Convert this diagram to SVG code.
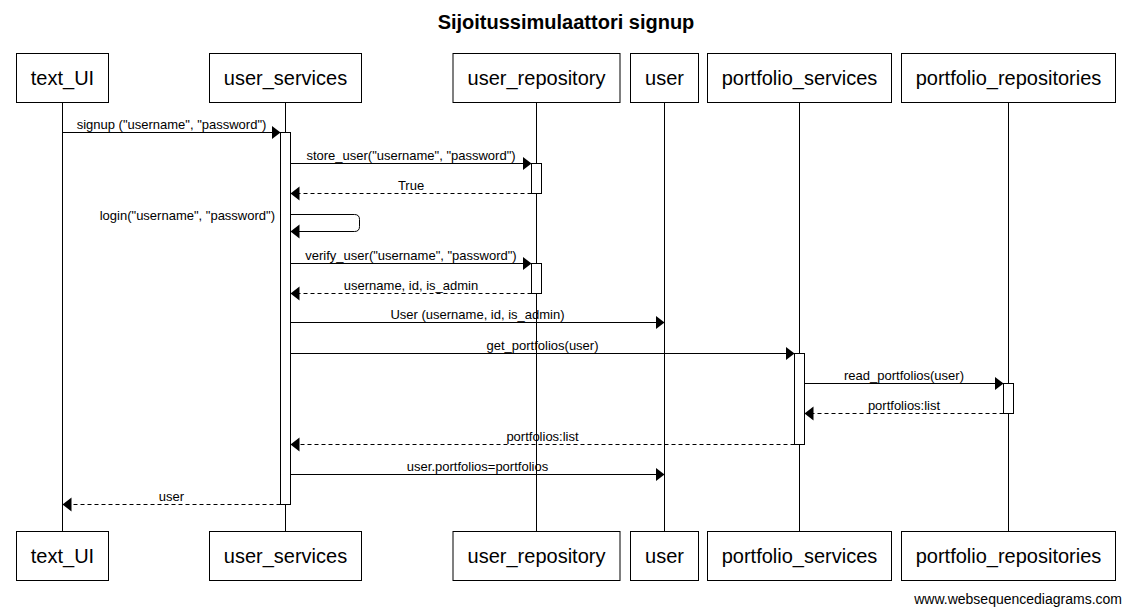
<svg xmlns="http://www.w3.org/2000/svg" width="1131" height="615" viewBox="0 0 1131 615">
<defs>
<style>
text{font-family:"Liberation Sans",Arial,sans-serif;fill:#000}
.title{font-size:20px;font-weight:bold;text-anchor:middle}
.box{fill:#fff;stroke:#000;stroke-width:1}
.bl{font-size:20px;text-anchor:middle}
.life{stroke:#000;stroke-width:1;fill:none}
.act{fill:#fff;stroke:#000;stroke-width:1}
.msg{stroke:#000;stroke-width:1;fill:none;marker-end:url(#ah)}
.ret{stroke-dasharray:4,3}
.lbl{font-size:13px;text-anchor:middle}
.wm{font-size:14px;text-anchor:end}
</style>
<marker id="ah" markerUnits="userSpaceOnUse" markerWidth="10" markerHeight="16" viewBox="0 0 10 16" refX="9" refY="7.5" orient="auto">
<path d="M0,0.5 L9,7.5 L0,14.5 z" fill="#000" stroke="none"/>
</marker>
</defs>
<rect width="1131" height="615" fill="#fff"/>
<text class="title" x="566" y="28.5">Sijoitussimulaattori signup</text>

<g id="lifelines">
<line class="life" x1="62.5" y1="102.5" x2="62.5" y2="531.5"/>
<line class="life" x1="285.5" y1="102.5" x2="285.5" y2="531.5"/>
<line class="life" x1="536.5" y1="102.5" x2="536.5" y2="531.5"/>
<line class="life" x1="664.5" y1="102.5" x2="664.5" y2="531.5"/>
<line class="life" x1="799.5" y1="102.5" x2="799.5" y2="531.5"/>
<line class="life" x1="1008.5" y1="102.5" x2="1008.5" y2="531.5"/>
</g>

<g id="node-text_UI">
<rect class="box" x="16.5" y="53.5" width="92" height="49"/>
<text class="bl" x="62.5" y="85">text_UI</text>
<rect class="box" x="16.5" y="531.5" width="92" height="49"/>
<text class="bl" x="62.5" y="563">text_UI</text>
</g>
<g id="node-user_services">
<rect class="box" x="209.5" y="53.5" width="152" height="49"/>
<text class="bl" x="285.5" y="85">user_services</text>
<rect class="box" x="209.5" y="531.5" width="152" height="49"/>
<text class="bl" x="285.5" y="563">user_services</text>
<rect class="act" x="280.5" y="132.5" width="10" height="372"/>
</g>
<g id="node-user_repository">
<rect class="box" x="453" y="53.5" width="167" height="49"/>
<text class="bl" x="536.5" y="85">user_repository</text>
<rect class="box" x="453" y="531.5" width="167" height="49"/>
<text class="bl" x="536.5" y="563">user_repository</text>
<rect class="act" x="531.5" y="163.5" width="10" height="30"/>
<rect class="act" x="531.5" y="263.5" width="10" height="30"/>
</g>
<g id="node-user">
<rect class="box" x="630.5" y="53.5" width="68" height="49"/>
<text class="bl" x="664.5" y="85">user</text>
<rect class="box" x="630.5" y="531.5" width="68" height="49"/>
<text class="bl" x="664.5" y="563">user</text>
</g>
<g id="node-portfolio_services">
<rect class="box" x="707.5" y="53.5" width="184" height="49"/>
<text class="bl" x="799.5" y="85">portfolio_services</text>
<rect class="box" x="707.5" y="531.5" width="184" height="49"/>
<text class="bl" x="799.5" y="563">portfolio_services</text>
<rect class="act" x="794.5" y="353.5" width="10" height="91"/>
</g>
<g id="node-portfolio_repositories">
<rect class="box" x="901.5" y="53.5" width="214" height="49"/>
<text class="bl" x="1008.5" y="85">portfolio_repositories</text>
<rect class="box" x="901.5" y="531.5" width="214" height="49"/>
<text class="bl" x="1008.5" y="563">portfolio_repositories</text>
<rect class="act" x="1003.5" y="383.5" width="10" height="30"/>
</g>

<g id="connectors">
<line class="msg" x1="62.5" y1="132.5" x2="280.5" y2="132.5"/>
<text class="lbl" x="171.5" y="128.5">signup ("username", "password")</text>

<line class="msg" x1="290.5" y1="163.5" x2="531.5" y2="163.5"/>
<text class="lbl" x="411" y="159.5">store_user("username", "password")</text>

<line class="msg ret" x1="531.5" y1="193.5" x2="290.5" y2="193.5"/>
<text class="lbl" x="411" y="189.5">True</text>

<path class="msg" d="M290.5,214.5 H354.5 Q359.5,214.5 359.5,219.5 V226.5 Q359.5,231.5 354.5,231.5 H290.5"/>
<text class="lbl" x="275" y="220" style="text-anchor:end">login("username", "password")</text>

<line class="msg" x1="290.5" y1="263.5" x2="531.5" y2="263.5"/>
<text class="lbl" x="411" y="259.5">verify_user("username", "password")</text>

<line class="msg ret" x1="531.5" y1="293.5" x2="290.5" y2="293.5"/>
<text class="lbl" x="411" y="289.5">username, id, is_admin</text>

<line class="msg" x1="290.5" y1="322.5" x2="664.5" y2="322.5"/>
<text class="lbl" x="477.5" y="318.5">User (username, id, is_admin)</text>

<line class="msg" x1="290.5" y1="353.5" x2="794.5" y2="353.5"/>
<text class="lbl" x="542.5" y="349.5">get_portfolios(user)</text>

<line class="msg" x1="804.5" y1="383.5" x2="1003.5" y2="383.5"/>
<text class="lbl" x="904" y="379.5">read_portfolios(user)</text>

<line class="msg ret" x1="1003.5" y1="413.5" x2="804.5" y2="413.5"/>
<text class="lbl" x="904" y="409.5">portfolios:list</text>

<line class="msg ret" x1="794.5" y1="444.5" x2="290.5" y2="444.5"/>
<text class="lbl" x="542.5" y="440.5">portfolios:list</text>

<line class="msg" x1="290.5" y1="474.5" x2="664.5" y2="474.5"/>
<text class="lbl" x="477.5" y="470.5">user.portfolios=portfolios</text>

<line class="msg ret" x1="280.5" y1="504.5" x2="62.5" y2="504.5"/>
<text class="lbl" x="171.5" y="500.5">user</text>
</g>

<text class="wm" x="1122" y="604">www.websequencediagrams.com</text>
</svg>
